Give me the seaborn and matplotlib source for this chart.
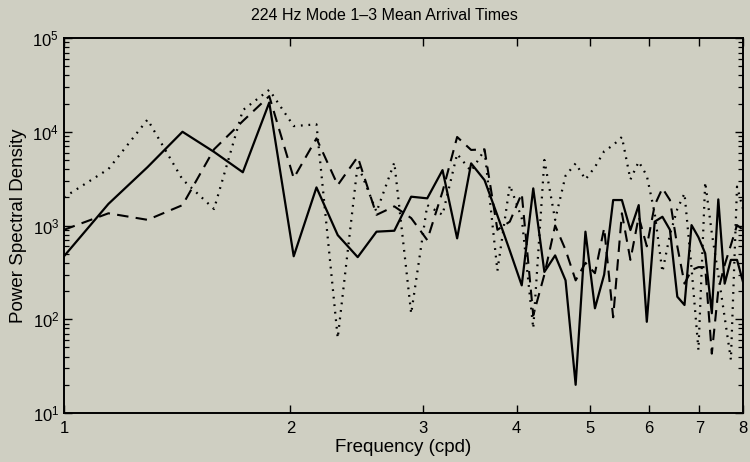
import numpy as np
import pandas as pd
import matplotlib
matplotlib.use("Agg")
import matplotlib.pyplot as plt
import seaborn as sns
from matplotlib.ticker import LogLocator, FixedLocator, FixedFormatter, NullFormatter

# ---- data ----
freq = [1.0, 1.1458, 1.2917, 1.4375, 1.5833, 1.7292, 1.875, 2.0208, 2.1667, 2.3125,
        2.4583, 2.6042, 2.75, 2.8958, 3.0417, 3.1875, 3.3333, 3.4792, 3.625, 3.7708,
        3.9167, 4.0625, 4.2083, 4.3542, 4.5, 4.6458, 4.7917, 4.9375, 5.0833, 5.2292,
        5.375, 5.5208, 5.6667, 5.8125, 5.9583, 6.1042, 6.25, 6.3958, 6.5417, 6.6875,
        6.8333, 6.9792, 7.125, 7.2708, 7.4167, 7.5625, 7.7083, 7.8542, 8.0]

mode_solid = [470, 1700, 4200, 10000, 6100, 3700, 20500, 470, 2550, 790,
              460, 860, 880, 2030, 1950, 3900, 730, 4600, 3050, 1280,
              540, 230, 2490, 320, 480, 260, 20, 860, 131, 300,
              1870, 1870, 895, 1650, 94, 1100, 1240, 900, 174, 142,
              1010, 750, 505, 116, 1900, 240, 430, 430, 250]

mode_dashed = [900, 1350, 1150, 1650, 6500, 13000, 24000, 3200, 8500, 2700,
               5400, 1300, 1600, 1200, 700, 2300, 8800, 6400, 6500, 900,
               1100, 2200, 110, 300, 1000, 550, 260, 400, 310, 940,
               105, 1350, 430, 1240, 600, 1650, 2500, 1870, 600, 240,
               335, 360, 360, 43, 205, 380, 620, 1010, 900]

mode_dotted = [2000, 4000, 13500, 3100, 1500, 17000, 28000, 11500, 12000, 63,
               4500, 1400, 4700, 115, 1650, 1300, 5800, 3800, 6400, 330,
               2700, 1200, 80, 5000, 1150, 3400, 4600, 3100, 4200, 6200,
               7200, 8800, 3100, 4800, 3400, 1350, 320, 800, 1500, 2200,
               350, 47, 2900, 830, 300, 105, 37, 2600, 1500]

x_ticks = [1, 2, 3, 4, 5, 6, 7, 8]
x_ticklabels = ["1", "2", "3", "4", "5", "6", "7", "8"]
y_ticks = [1e1, 1e2, 1e3, 1e4, 1e5]
y_ticklabels = [r"$10^1$", r"$10^2$", r"$10^3$", r"$10^4$", r"$10^5$"]

title = "224 Hz Mode 1\u20133 Mean Arrival Times"
xlabel = "Frequency (cpd)"
ylabel = "Power Spectral Density"

# ---- style ----
bg = "#cfcfc2"
sns.set_style("ticks")
plt.rcParams["font.family"] = ["Liberation Sans", "DejaVu Sans"]
plt.rcParams["mathtext.fontset"] = "custom"
plt.rcParams["mathtext.rm"] = "Liberation Sans"
plt.rcParams["mathtext.it"] = "Liberation Sans"

fig = plt.figure(figsize=(7.5, 4.62), dpi=100, facecolor=bg)
ax = fig.add_axes([0.0853, 0.106, 0.9054, 0.8117])
ax.set_facecolor(bg)

df = pd.DataFrame({"freq": freq, "solid": mode_solid,
                   "dashed": mode_dashed, "dotted": mode_dotted})

sns.lineplot(data=df, x="freq", y="solid", ax=ax, color="black",
             linewidth=1.6, linestyle="-")
sns.lineplot(data=df, x="freq", y="dashed", ax=ax, color="black",
             linewidth=1.5)
ax.lines[-1].set_linestyle((0, (5.5, 3.5)))
sns.lineplot(data=df, x="freq", y="dotted", ax=ax, color="black",
             linewidth=1.6)
ax.lines[-1].set_linestyle((0, (0.8, 2.6)))

ax.set_xscale("log")
ax.set_yscale("log")
ax.set_xlim(1, 8)
ax.set_ylim(1e1, 1e5)

ax.xaxis.set_major_locator(FixedLocator(x_ticks))
ax.xaxis.set_major_formatter(FixedFormatter(x_ticklabels))
ax.xaxis.set_minor_locator(FixedLocator([]))
ax.xaxis.set_minor_formatter(NullFormatter())
ax.yaxis.set_major_locator(FixedLocator(y_ticks))
ax.yaxis.set_major_formatter(FixedFormatter(y_ticklabels))
ax.yaxis.set_minor_locator(LogLocator(base=10, subs=np.arange(2, 10)))
ax.yaxis.set_minor_formatter(NullFormatter())

ax.tick_params(which="both", direction="in", top=True, right=True,
               colors="black", labelsize=12)
ax.tick_params(axis="x", which="major", pad=6)
ax.tick_params(which="major", length=6, width=1.0)
ax.tick_params(which="minor", length=3.5, width=0.9)
for s in ax.spines.values():
    s.set_color("black")
    s.set_linewidth(1.4)

ax.set_title(title, fontsize=11.5, pad=13, color="black", x=0.472)
ax.set_xlabel(xlabel, fontsize=13.5, labelpad=2, color="black")
ax.set_ylabel(ylabel, fontsize=13.5, labelpad=4, color="black")
ax.grid(False)

fig.savefig("out.png", dpi=100, facecolor=bg)
